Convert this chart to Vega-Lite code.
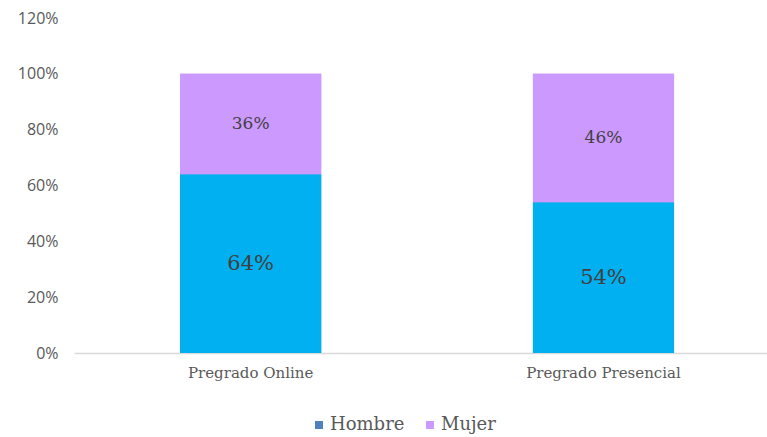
{
  "$schema": "https://vega.github.io/schema/vega-lite/v6.json",
  "autosize": "none",
  "width": 693,
  "height": 335,
  "padding": {"left": 74, "top": 18, "right": 0, "bottom": 84},
  "background": "white",
  "config": {"view": {"stroke": null}},
  "data": {
    "values": [
      {"programa": "Pregrado Online", "sexo": "Hombre", "valor": 0.64, "etiqueta": "64%"},
      {"programa": "Pregrado Online", "sexo": "Mujer", "valor": 0.36, "etiqueta": "36%"},
      {"programa": "Pregrado Presencial", "sexo": "Hombre", "valor": 0.54, "etiqueta": "54%"},
      {"programa": "Pregrado Presencial", "sexo": "Mujer", "valor": 0.46, "etiqueta": "46%"}
    ]
  },
  "encoding": {
    "x": {
      "field": "programa",
      "type": "nominal",
      "sort": null,
      "scale": {"paddingInner": 0.6, "paddingOuter": 0.282, "align": 0.533},
      "axis": {
        "title": null,
        "labelAngle": 0,
        "ticks": false,
        "domainColor": "#D9D9D9",
        "domainWidth": 1.5,
        "labelFont": "DejaVu Serif",
        "labelFontSize": 15,
        "labelColor": "#595959",
        "labelPadding": 12
      }
    },
    "y": {
      "field": "valor",
      "type": "quantitative",
      "stack": "zero",
      "scale": {"domain": [0, 1.2]},
      "axis": {
        "title": null,
        "format": ".0%",
        "values": [0, 0.2, 0.4, 0.6, 0.8, 1.0, 1.2],
        "labelOverlap": false,
        "grid": false,
        "ticks": false,
        "domain": false,
        "labelFont": "Open Sans",
        "labelFontSize": 16,
        "labelColor": "#595959",
        "labelPadding": 16
      }
    },
    "order": {"field": "sexo", "sort": "ascending"}
  },
  "layer": [
    {
      "mark": {"type": "bar"},
      "encoding": {
        "color": {
          "field": "sexo",
          "type": "nominal",
          "scale": {"domain": ["Hombre", "Mujer"], "range": ["#4F81BD", "#CC99FF"]},
          "legend": {
            "title": null,
            "orient": "none",
            "legendX": 236,
            "legendY": 398,
            "direction": "horizontal",
            "symbolType": "square",
            "symbolSize": 64,
            "symbolStrokeWidth": 0,
            "labelFont": "DejaVu Serif",
            "labelFontSize": 18,
            "labelColor": "#595959",
            "labelOffset": 2,
            "columnPadding": 16
          }
        }
      }
    },
    {
      "mark": {"type": "bar"},
      "encoding": {
        "fill": {
          "field": "sexo",
          "type": "nominal",
          "scale": {"domain": ["Hombre", "Mujer"], "range": ["#00B0F0", "#CC99FF"]},
          "legend": null
        }
      }
    },
    {
      "mark": {"type": "text", "font": "DejaVu Serif", "color": "#404040"},
      "encoding": {
        "y": {
          "field": "valor",
          "type": "quantitative",
          "stack": "zero",
          "bandPosition": 0.5
        },
        "text": {"field": "etiqueta"},
        "size": {
          "condition": {"test": "datum.sexo === 'Hombre'", "value": 21},
          "value": 17
        }
      }
    }
  ]
}
